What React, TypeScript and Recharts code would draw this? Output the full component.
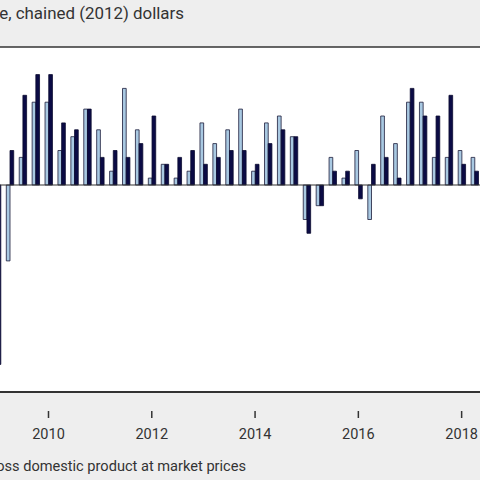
import { BarChart, Bar, XAxis, YAxis, ReferenceLine, CartesianGrid } from 'recharts';

// quarterly % change (first light value is hidden past the left edge)
const quarters = [
  '2009Q1', '2009Q2', '2009Q3', '2009Q4',
  '2010Q1', '2010Q2', '2010Q3', '2010Q4',
  '2011Q1', '2011Q2', '2011Q3', '2011Q4',
  '2012Q1', '2012Q2', '2012Q3', '2012Q4',
  '2013Q1', '2013Q2', '2013Q3', '2013Q4',
  '2014Q1', '2014Q2', '2014Q3', '2014Q4',
  '2015Q1', '2015Q2', '2015Q3', '2015Q4',
  '2016Q1', '2016Q2', '2016Q3', '2016Q4',
  '2017Q1', '2017Q2', '2017Q3', '2017Q4',
  '2018Q1', '2018Q2',
];

const seriesA = [
  -2.0, -1.1, 0.4, 1.2,
  1.2, 0.5, 0.7, 1.1,
  0.8, 0.2, 1.4, 0.8,
  0.1, 0.3, 0.1, 0.2,
  0.9, 0.6, 0.8, 1.1,
  0.2, 0.9, 1.0, 0.7,
  -0.5, -0.3, 0.4, 0.1,
  0.5, -0.5, 1.0, 0.6,
  1.2, 1.2, 0.4, 0.4,
  0.5, 0.4,
];

const seriesB = [
  -2.6, 0.5, 1.3, 1.6,
  1.6, 0.9, 0.8, 1.1,
  0.4, 0.5, 0.4, 0.6,
  1.0, 0.3, 0.4, 0.5,
  0.3, 0.4, 0.5, 0.5,
  0.3, 0.6, 0.8, 0.7,
  -0.7, -0.3, 0.2, 0.2,
  -0.2, 0.3, 0.4, 0.1,
  1.4, 1.0, 1.0, 1.3,
  0.3, 0.2,
];

const tickQuarters = ['2010Q1', '2012Q1', '2014Q1', '2016Q1', '2018Q1'];

const data = quarters.map((q, i) => ({ q, a: seriesA[i], b: seriesB[i] }));

const YearTick = ({ x, y, payload }: any) => (
  <g>
    <line x1={x} x2={x} y1={y + 19} y2={y + 26} stroke="#333" strokeWidth={1.5} />
    <text x={x} y={y + 47} textAnchor="middle" fill="#333" fontSize={14.5} fontFamily="Roboto">
      {payload.value.slice(0, 4)}
    </text>
  </g>
);

export default function App() {
  return (
    <div
      style={{
        position: 'fixed',
        left: 0,
        top: 0,
        width: 480,
        height: 480,
        overflow: 'hidden',
        background: '#eeeeee',
        fontFamily: 'Roboto',
        color: '#333',
      }}
    >
      <div style={{ position: 'absolute', right: 296, top: 3, fontSize: 16.9, whiteSpace: 'nowrap' }}>
        Real gross domestic product, percentage change, chained (2012) dollars
      </div>
      <div style={{ position: 'absolute', left: -60, top: 0 }}>
        <BarChart
          width={600}
          height={480}
          data={data}
          margin={{ top: 47, right: 59, bottom: 28, left: 50.4 }}
          barGap={0}
          barSize={3.7}
        >
          <CartesianGrid horizontal={false} vertical={false} fill="#ffffff" fillOpacity={1} />
          <YAxis hide domain={[-3, 2]} allowDataOverflow />
          <XAxis
            dataKey="q"
            ticks={tickQuarters}
            interval={0}
            height={60}
            tickSize={0}
            tickMargin={0}
            tickLine={false}
            tick={<YearTick />}
            axisLine={{ stroke: '#333', strokeWidth: 2 }}
          />
          <ReferenceLine y={2} stroke="#333" strokeWidth={1.5} />
          <ReferenceLine y={0} stroke="#333" strokeWidth={1.2} />
          <Bar dataKey="a" fill="#a9c9e2" stroke="#1c1c3a" strokeWidth={0.8} isAnimationActive={false} />
          <Bar dataKey="b" fill="#0b0b45" stroke="#0b0b30" strokeWidth={0.8} isAnimationActive={false} />
        </BarChart>
      </div>
      <div style={{ position: 'absolute', right: 234, top: 457, fontSize: 14.6, whiteSpace: 'nowrap' }}>
        Gross domestic product at market prices
      </div>
    </div>
  );
}
